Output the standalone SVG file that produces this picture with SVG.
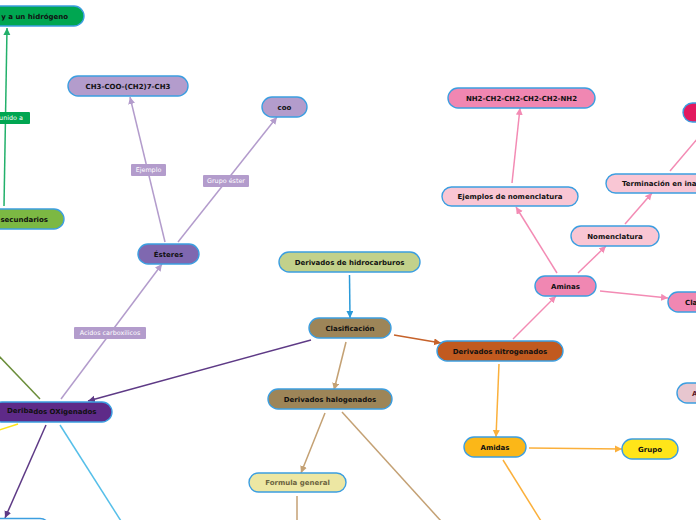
<svg xmlns="http://www.w3.org/2000/svg" width="696" height="520" viewBox="0 0 696 520">
<style>
.n{stroke:#3c9ee0;stroke-width:1.4}
.t{font-family:"DejaVu Sans",Verdana,sans-serif;font-weight:bold;font-size:7px;fill:#111;text-anchor:middle}
.c{fill:none;stroke-width:1.5}
.l{font-family:"DejaVu Sans",Verdana,sans-serif;font-size:6.4px;fill:#fff;text-anchor:middle}
</style>
<defs>
<marker id="aG" markerUnits="userSpaceOnUse" markerWidth="8" markerHeight="8" refX="7" refY="3.5" orient="auto"><path d="M0,0 L7,3.5 L0,7 z" fill="#22b06a"/></marker>
<marker id="aLP" markerUnits="userSpaceOnUse" markerWidth="8" markerHeight="8" refX="7" refY="3.5" orient="auto"><path d="M0,0 L7,3.5 L0,7 z" fill="#b39ccc"/></marker>
<marker id="aDP" markerUnits="userSpaceOnUse" markerWidth="8" markerHeight="8" refX="7" refY="3.5" orient="auto"><path d="M0,0 L7,3.5 L0,7 z" fill="#5e3a86"/></marker>
<marker id="aB" markerUnits="userSpaceOnUse" markerWidth="8" markerHeight="8" refX="7" refY="3.5" orient="auto"><path d="M0,0 L7,3.5 L0,7 z" fill="#2a9ad9"/></marker>
<marker id="aT" markerUnits="userSpaceOnUse" markerWidth="8" markerHeight="8" refX="7" refY="3.5" orient="auto"><path d="M0,0 L7,3.5 L0,7 z" fill="#c4a174"/></marker>
<marker id="aR" markerUnits="userSpaceOnUse" markerWidth="8" markerHeight="8" refX="7" refY="3.5" orient="auto"><path d="M0,0 L7,3.5 L0,7 z" fill="#c6622a"/></marker>
<marker id="aO" markerUnits="userSpaceOnUse" markerWidth="8" markerHeight="8" refX="7" refY="3.5" orient="auto"><path d="M0,0 L7,3.5 L0,7 z" fill="#fbb03b"/></marker>
<marker id="aP" markerUnits="userSpaceOnUse" markerWidth="8" markerHeight="8" refX="7" refY="3.5" orient="auto"><path d="M0,0 L7,3.5 L0,7 z" fill="#f38bb4"/></marker>
</defs>
<rect width="696" height="520" fill="#fff"/>
<g id="connectors">
<line class="c" x1="4" y1="206" x2="7" y2="28" stroke="#22b06a" marker-end="url(#aG)"/>
<line class="c" x1="165" y1="242" x2="130" y2="97" stroke="#b39ccc" marker-end="url(#aLP)"/>
<line class="c" x1="178" y1="242" x2="277" y2="117" stroke="#b39ccc" marker-end="url(#aLP)"/>
<line class="c" x1="61" y1="399" x2="162" y2="264" stroke="#b39ccc" marker-end="url(#aLP)"/>
<line class="c" x1="311" y1="340" x2="88" y2="401" stroke="#5e3a86" marker-end="url(#aDP)"/>
<line class="c" x1="349.5" y1="275" x2="350" y2="318" stroke="#2a9ad9" marker-end="url(#aB)"/>
<line class="c" x1="346" y1="342" x2="334" y2="390" stroke="#c4a174" marker-end="url(#aT)"/>
<line class="c" x1="394" y1="335" x2="441" y2="343" stroke="#c6622a" marker-end="url(#aR)"/>
<line class="c" x1="325" y1="413" x2="301" y2="473" stroke="#c4a174" marker-end="url(#aT)"/>
<line class="c" x1="342" y1="412" x2="441" y2="521" stroke="#c4a174"/>
<line class="c" x1="297" y1="496" x2="297" y2="521" stroke="#c4a174"/>
<line class="c" x1="499" y1="364" x2="496" y2="437" stroke="#fbb03b" marker-end="url(#aO)"/>
<line class="c" x1="529" y1="448" x2="622" y2="449" stroke="#fbb03b" marker-end="url(#aO)"/>
<line class="c" x1="503" y1="460" x2="541" y2="521" stroke="#fbb03b"/>
<line class="c" x1="513" y1="339" x2="556" y2="296" stroke="#f38bb4" marker-end="url(#aP)"/>
<line class="c" x1="557" y1="273" x2="516" y2="207" stroke="#f38bb4" marker-end="url(#aP)"/>
<line class="c" x1="578" y1="273" x2="606" y2="246" stroke="#f38bb4" marker-end="url(#aP)"/>
<line class="c" x1="600" y1="291" x2="668" y2="298" stroke="#f38bb4" marker-end="url(#aP)"/>
<line class="c" x1="512" y1="183" x2="520" y2="108" stroke="#f38bb4" marker-end="url(#aP)"/>
<line class="c" x1="625" y1="224" x2="652" y2="193" stroke="#f38bb4" marker-end="url(#aP)"/>
<line class="c" x1="670" y1="171" x2="698" y2="138" stroke="#f38bb4"/>
<line class="c" x1="-1" y1="356" x2="40" y2="399" stroke="#6b8e3a"/>
<line class="c" x1="18" y1="424" x2="-1" y2="430" stroke="#ffe519"/>
<line class="c" x1="46" y1="425" x2="5" y2="518" stroke="#5e3a86" marker-end="url(#aDP)"/>
<line class="c" x1="60" y1="425" x2="121" y2="521" stroke="#56bfe9"/>
<g id="labels">
<rect x="-4" y="112" width="34" height="12" rx="1" fill="#00a651"/>
<text class="l" x="11" y="120.2">unido a</text>
<rect x="131" y="164" width="35" height="12" rx="1" fill="#b39ccc"/>
<text class="l" x="148.5" y="172.2">Ejemplo</text>
<rect x="203" y="175" width="46" height="12" rx="1" fill="#b39ccc"/>
<text class="l" x="226" y="183.2">Grupo éster</text>
<rect x="74" y="327" width="72" height="12" rx="1" fill="#b39ccc"/>
<text class="l" x="110" y="335.2">Acidos carboxilicos</text>
</g>
</g>
<g id="n-hidrogeno"><rect class="n" x="-20" y="6" width="104" height="20" rx="10" fill="#00a651"/><text class="t" x="68" y="18.5" style="text-anchor:end">y a un hidrógeno</text></g>
<g id="n-secundarios"><rect class="n" x="-40" y="209" width="104" height="20" rx="10" fill="#7cb843"/><text class="t" x="48" y="221.5" style="text-anchor:end">secundarios</text></g>
<g id="n-ch3"><rect class="n" x="68" y="76" width="120" height="20" rx="10" fill="#b39ccc"/><text class="t" x="128" y="88.5">CH3-COO-(CH2)7-CH3</text></g>
<g id="n-coo"><rect class="n" x="262" y="97" width="45" height="20" rx="10" fill="#b39ccc"/><text class="t" x="284.5" y="109.5">coo</text></g>
<g id="n-esteres"><rect class="n" x="138" y="244" width="61" height="20" rx="10" fill="#7f68b0"/><text class="t" x="168.5" y="256.5">Ésteres</text></g>
<g id="n-hidrocarburos"><rect class="n" x="279" y="252" width="141" height="20" rx="10" fill="#c2d18b"/><text class="t" x="349.5" y="264.5">Derivados de hidrocarburos</text></g>
<g id="n-clasificacion"><rect class="n" x="309" y="318" width="82" height="20" rx="10" fill="#9d8558"/><text class="t" x="350" y="330.5">Clasificación</text></g>
<g id="n-nitrogenados"><rect class="n" x="437" y="341" width="126" height="20" rx="10" fill="#c15a1f"/><text class="t" x="500" y="353.5">Derivados nitrogenados</text></g>
<g id="n-halogenados"><rect class="n" x="268" y="389" width="124" height="20" rx="10" fill="#9d8558"/><text class="t" x="330" y="401.5">Derivados halogenados</text></g>
<g id="n-formula"><rect class="n" x="249" y="473" width="97" height="19" rx="9.5" fill="#ede7a3"/><text class="t" x="297.5" y="485" style="fill:#6b6440">Formula general</text></g>
<g id="n-oxigenados"><rect class="n" x="-8" y="402" width="120" height="20" rx="10" fill="#5e2a88"/><text class="t" x="7" y="413" style="text-anchor:start">Deriba<tspan dy="1.2">dos OXigenados</tspan></text></g>
<g id="n-bottomleft"><rect class="n" x="-30" y="518.5" width="80" height="20" rx="10" fill="#fff"/></g>
<g id="n-nh2"><rect class="n" x="448" y="88" width="147" height="20" rx="10" fill="#f087b2"/><text class="t" x="521.5" y="100.5">NH2-CH2-CH2-CH2-CH2-NH2</text></g>
<g id="n-ejemplos"><rect class="n" x="442" y="187" width="136" height="19" rx="9.5" fill="#f9c6d4"/><text class="t" x="510" y="199">Ejemplos de nomenclatura</text></g>
<g id="n-terminacion"><rect class="n" x="606" y="174" width="130" height="19" rx="9.5" fill="#f9c6d4"/><text class="t" x="622" y="186" style="text-anchor:start">Terminación en ina</text></g>
<g id="n-magenta"><rect class="n" x="683" y="103" width="60" height="19" rx="9.5" fill="#e2195f"/></g>
<g id="n-nomenclatura"><rect class="n" x="571" y="226" width="88" height="20" rx="10" fill="#f9c6d4"/><text class="t" x="615" y="238.5">Nomenclatura</text></g>
<g id="n-aminas"><rect class="n" x="535" y="276" width="61" height="20" rx="10" fill="#f087b2"/><text class="t" x="565.5" y="288.5">Aminas</text></g>
<g id="n-cla"><rect class="n" x="668" y="292" width="80" height="20" rx="10" fill="#f087b2"/><text class="t" x="685" y="304.5" style="text-anchor:start">Cla</text></g>
<g id="n-a"><rect class="n" x="677" y="383" width="60" height="20" rx="10" fill="#e7c6cf"/><text class="t" x="692" y="395.5" style="text-anchor:start;fill:#5a1a2a">A</text></g>
<g id="n-amidas"><rect class="n" x="464" y="437" width="62" height="20" rx="10" fill="#fbb718"/><text class="t" x="495" y="449.5">Amidas</text></g>
<g id="n-grupo"><rect class="n" x="622" y="439" width="56" height="20" rx="10" fill="#ffe519"/><text class="t" x="650" y="451.5">Grupo</text></g>
</svg>
